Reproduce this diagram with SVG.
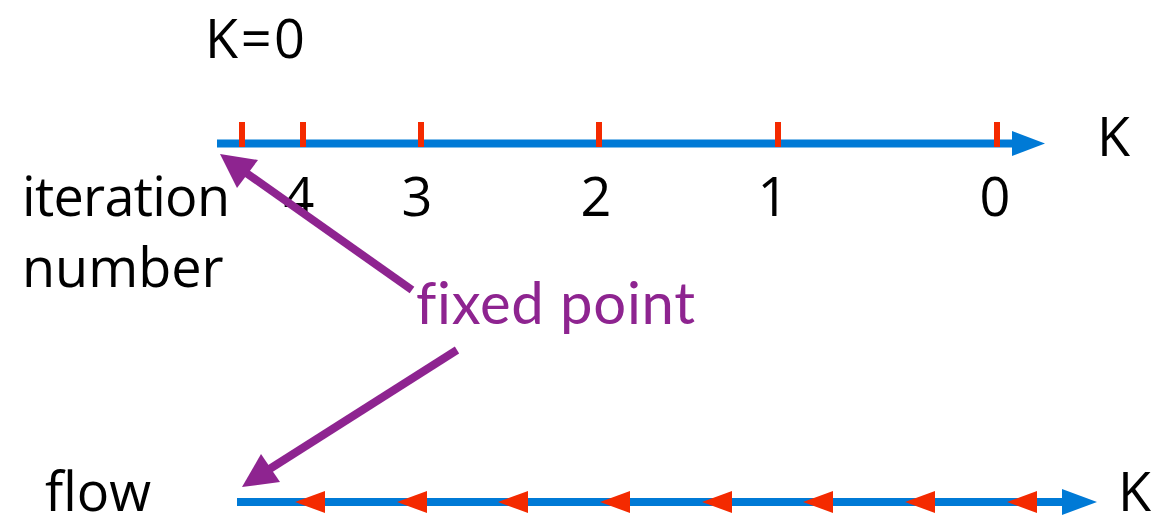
<svg xmlns="http://www.w3.org/2000/svg" width="1162" height="515" viewBox="0 0 1162 515">
<style>
.t{font-family:"Open Sans","DejaVu Sans",sans-serif;font-size:54px;fill:#000}
.fp{font-family:Lato,"Open Sans",sans-serif;font-size:58px;fill:#8e2490;font-variant-ligatures:none}
.axis{stroke:#007ad6;stroke-width:8;fill:none}
.tick{stroke:#f42a00;stroke-width:6}
.flow{fill:#f42a00}
.ah{fill:#007ad6}
.pl{stroke:#8e2490;stroke-width:8;fill:none}
.ph{fill:#8e2490}
</style>
<rect width="1162" height="515" fill="#fff"/>
<g id="labels">
<text class="t" x="205" y="58" textLength="100">K=0</text>
<text class="t" x="1097" y="156">K</text>
<text class="t" x="22" y="216" textLength="208">iteration</text>
<text class="t" x="22" y="287">number</text>
<text class="t" x="45" y="511">flow</text>
<text class="t" x="1118" y="511">K</text>
</g>
<g id="iteration-axis">
<line class="axis" x1="217" y1="143.5" x2="1014" y2="143.5"/>
<polygon class="ah" points="1012,131 1045,143.5 1012,156"/>
<line class="tick" x1="242" y1="122" x2="242" y2="147"/>
<line class="tick" x1="303" y1="122" x2="303" y2="147"/>
<line class="tick" x1="421" y1="122" x2="421" y2="147"/>
<line class="tick" x1="599" y1="122" x2="599" y2="147"/>
<line class="tick" x1="778" y1="122" x2="778" y2="147"/>
<line class="tick" x1="997" y1="122" x2="997" y2="147"/>
</g>
<g id="iteration-numbers">
<text class="t" x="299" y="216" text-anchor="middle">4</text>
<text class="t" x="417" y="216" text-anchor="middle">3</text>
<text class="t" x="596" y="216" text-anchor="middle">2</text>
<text class="t" x="773" y="216" text-anchor="middle">1</text>
<text class="t" x="995" y="216" text-anchor="middle">0</text>
</g>
<g id="flow-axis">
<line class="axis" x1="237" y1="502" x2="1064" y2="502"/>
<polygon class="ah" points="1062,489 1097,502 1062,515"/>
<polygon class="flow" points="295,502 325,491 325,513"/>
<polygon class="flow" points="397,502 427,491 427,513"/>
<polygon class="flow" points="498,502 528,491 528,513"/>
<polygon class="flow" points="600,502 630,491 630,513"/>
<polygon class="flow" points="702,502 732,491 732,513"/>
<polygon class="flow" points="803,502 833,491 833,513"/>
<polygon class="flow" points="905,502 935,491 935,513"/>
<polygon class="flow" points="1007,502 1037,491 1037,513"/>
</g>
<g id="fixed-point">
<text class="fp" x="416" y="324" textLength="279">fixed point</text>
</g>
<g id="connectors">
<line class="pl" x1="412" y1="290" x2="242" y2="170"/>
<polygon class="ph" points="220,154 258,160 237,188"/>
<line class="pl" x1="457" y1="350" x2="268" y2="470"/>
<polygon class="ph" points="242,487 261,454 280,482"/>
</g>
</svg>
